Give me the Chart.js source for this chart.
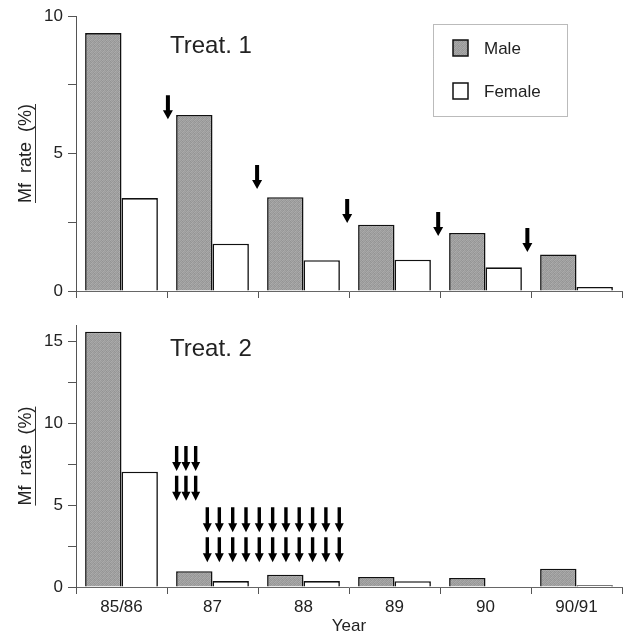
<!DOCTYPE html>
<html><head><meta charset="utf-8">
<script src="https://cdn.jsdelivr.net/npm/chart.js@4/dist/chart.umd.min.js"></script>
<style>
html,body{margin:0;padding:0;background:#fff;}
#wrap{position:relative;width:628px;height:639px;overflow:hidden;}
#c1{position:absolute;left:0;top:0;}
#c2{position:absolute;left:0;top:310px;}
</style></head><body>
<div id="wrap">
<canvas id="c1" width="628" height="310"></canvas>
<canvas id="c2" width="628" height="329"></canvas>
</div>
<script>
// ---- data ----
const years = ['85/86', '87', '88', '89', '90', '90/91'];
const seriesNames = ['Male', 'Female'];
const panelTitles = ['Treat. 1', 'Treat. 2'];
const yTitle = 'Mf  rate  (%)';
const xTitle = 'Year';

const treat1Male   = [9.38, 6.40, 3.41, 2.41, 2.11, 1.33];
const treat1Female = [3.38, 1.72, 1.12, 1.14, 0.86, 0.15];
const treat2Male   = [15.6, 0.97, 0.75, 0.61, 0.55, 1.12];
const treat2Female = [7.05, 0.36, 0.36, 0.35, 0.03, 0.10];

const treat1YTicks  = [0, 2.5, 5, 7.5, 10];
const treat1YLabels = [0, 5, 10];
const treat2YTicks  = [0, 2.5, 5, 7.5, 10, 12.5, 15];
const treat2YLabels = [0, 5, 10, 15];
const treat1YMax = 10;
const treat2YMax = 16;

// treatment arrows: x in category units, y = value at arrow tip
const treat1ArrowX   = [0.51, 1.49, 2.48, 3.48, 4.46];
const treat1ArrowTip = [6.25, 3.71, 2.47, 2.00, 1.42];

const treat2ArrowXa  = [0.606, 0.708, 0.815];
const treat2ArrowTipA = [7.09, 5.27];
const treat2ArrowXb  = [0.943, 1.075, 1.222, 1.368, 1.514, 1.661, 1.807, 1.953, 2.100, 2.246, 2.393];
const treat2ArrowTipB = [3.34, 1.52];

// ---- styles ----
const FONT = "'Liberation Sans', Arial, sans-serif";
const TXT = '#222';

function makeGreyPattern() {
  const p = document.createElement('canvas');
  p.width = 4; p.height = 4;
  const g = p.getContext('2d');
  const shades = ['#a4a4a4','#969696','#ababab','#9c9c9c',
                  '#999999','#a8a8a8','#939393','#a6a6a6',
                  '#aaaaaa','#9a9a9a','#a2a2a2','#959595',
                  '#9e9e9e','#a5a5a5','#989898','#acacac'];
  for (let i = 0; i < 16; i++) { g.fillStyle = shades[i]; g.fillRect(i % 4, Math.floor(i / 4), 1, 1); }
  return g.createPattern(p, 'repeat');
}
const malePattern = makeGreyPattern();

function drawArrow(ctx, x, yTip, len, shaftW, headW, headH) {
  ctx.beginPath();
  ctx.moveTo(x - shaftW / 2, yTip - len);
  ctx.lineTo(x + shaftW / 2, yTip - len);
  ctx.lineTo(x + shaftW / 2, yTip - headH);
  ctx.lineTo(x + headW / 2, yTip - headH);
  ctx.lineTo(x, yTip);
  ctx.lineTo(x - headW / 2, yTip - headH);
  ctx.lineTo(x - shaftW / 2, yTip - headH);
  ctx.closePath();
  ctx.fill();
}

function arrowPlugin(groups) {
  return {
    id: 'arrows',
    afterDatasetsDraw(chart) {
      const {ctx, scales: {x, y}} = chart;
      ctx.save();
      ctx.fillStyle = '#000';
      groups.forEach(gr => {
        gr.xs.forEach(xv => {
          gr.tips.forEach(tv => {
            drawArrow(ctx, x.getPixelForValue(xv), y.getPixelForValue(tv), gr.len, gr.shaft, gr.headW, gr.headH);
          });
        });
      });
      ctx.restore();
    }
  };
}

function decorPlugin(title, dx, dy, withLegend) {
  return {
    id: 'decor',
    afterDraw(chart) {
      const {ctx, chartArea} = chart;
      ctx.save();
      // panel title
      ctx.fillStyle = TXT;
      ctx.font = '24px ' + FONT;
      ctx.textBaseline = 'middle';
      ctx.textAlign = 'left';
      ctx.fillText(title, chartArea.left + dx, chartArea.top + dy);
      // underline of y title
      const ys = chart.scales.y;
      ctx.font = '18px ' + FONT;
      const w = ctx.measureText(yTitle).width;
      const cy = (chartArea.top + chartArea.bottom) / 2;
      ctx.strokeStyle = '#333';
      ctx.lineWidth = 1;
      ctx.beginPath();
      ctx.moveTo(ys.left + 35.5, cy - w / 2);
      ctx.lineTo(ys.left + 35.5, cy + w / 2);
      ctx.stroke();
      // y axis line slightly extended below zero
      ctx.strokeStyle = '#555';
      ctx.beginPath();
      ctx.moveTo(chartArea.left + 0.5, chartArea.bottom);
      ctx.lineTo(chartArea.left + 0.5, chartArea.bottom + 6);
      ctx.stroke();
      if (withLegend) {
        const bx = 433.5, by = 24.5, bw = 134, bh = 92;
        ctx.strokeStyle = '#777';
        ctx.setLineDash([1, 1]);
        ctx.strokeRect(bx, by, bw, bh);
        ctx.setLineDash([]);
        const ds = chart.data.datasets;
        const rows = [48, 91];
        ds.forEach((d, i) => {
          ctx.fillStyle = d.backgroundColor;
          ctx.fillRect(453, rows[i] - 8, 15, 16);
          ctx.strokeStyle = '#111';
          ctx.lineWidth = 1.5;
          ctx.strokeRect(453, rows[i] - 8, 15, 16);
          ctx.fillStyle = TXT;
          ctx.font = '17px ' + FONT;
          ctx.textAlign = 'left';
          ctx.textBaseline = 'middle';
          ctx.fillText(d.label, 484, rows[i] + 1);
        });
      }
      ctx.restore();
    }
  };
}

function makeChart(id, male, female, yMax, yTicks, yLabels, opts) {
  return new Chart(document.getElementById(id), {
    type: 'bar',
    data: {
      labels: years,
      datasets: [
        {label: seriesNames[0], data: male, backgroundColor: malePattern, borderColor: '#111', borderWidth: 1.6,
         categoryPercentage: 0.8, barPercentage: 1.0},
        {label: seriesNames[1], data: female, backgroundColor: '#ffffff', borderColor: '#111', borderWidth: 1.6,
         categoryPercentage: 0.8, barPercentage: 1.0}
      ]
    },
    options: {
      responsive: false,
      animation: false,
      layout: {padding: {top: opts.padTop, right: 6, left: 0, bottom: 0}},
      plugins: {legend: {display: false}, tooltip: {enabled: false}},
      scales: {
        x: {
          grid: {drawOnChartArea: false, tickLength: 7, color: '#555', offset: true},
          border: {color: '#666', dash: [2, 1]},
          ticks: {display: opts.showX, font: {family: FONT, size: 17}, color: TXT, padding: 3, maxRotation: 0},
          title: {display: opts.showX, text: xTitle, font: {family: FONT, size: 17}, color: TXT, padding: {top: 0, bottom: 2}},
          afterFit: s => { s.height = opts.xHeight; }
        },
        y: {
          min: 0, max: yMax,
          ticks: {autoSkip: false, font: {family: FONT, size: 17}, color: TXT, padding: 5,
                  callback: v => yLabels.includes(v) ? String(v) : ''},
          grid: {drawOnChartArea: false, tickLength: 8, color: '#555'},
          border: {color: '#555'},
          title: {display: true, text: yTitle, font: {family: FONT, size: 18}, color: TXT, padding: {top: 15, bottom: 0}},
          afterBuildTicks: s => { s.ticks = yTicks.map(v => ({value: v})); },
          afterFit: s => { s.width = 76; }
        }
      }
    },
    plugins: opts.plugins
  });
}

makeChart('c1', treat1Male, treat1Female, treat1YMax, treat1YTicks, treat1YLabels, {
  padTop: 16, showX: false, xHeight: 19,
  plugins: [
    arrowPlugin(treat1ArrowX.map((xv, i) => ({xs: [xv], tips: [treat1ArrowTip[i]], len: 24, shaft: 4, headW: 10, headH: 9}))),
    decorPlugin(panelTitles[0], 94, 30, true)
  ]
});

makeChart('c2', treat2Male, treat2Female, treat2YMax, treat2YTicks, treat2YLabels, {
  padTop: 13, showX: true, xHeight: 52,
  plugins: [
    arrowPlugin([
      {xs: treat2ArrowXa, tips: treat2ArrowTipA, len: 25, shaft: 3.4, headW: 9, headH: 9},
      {xs: treat2ArrowXb, tips: treat2ArrowTipB, len: 25, shaft: 3.4, headW: 9, headH: 9}
    ]),
    decorPlugin(panelTitles[1], 94, 24, false)
  ]
});
</script>
</body></html>
